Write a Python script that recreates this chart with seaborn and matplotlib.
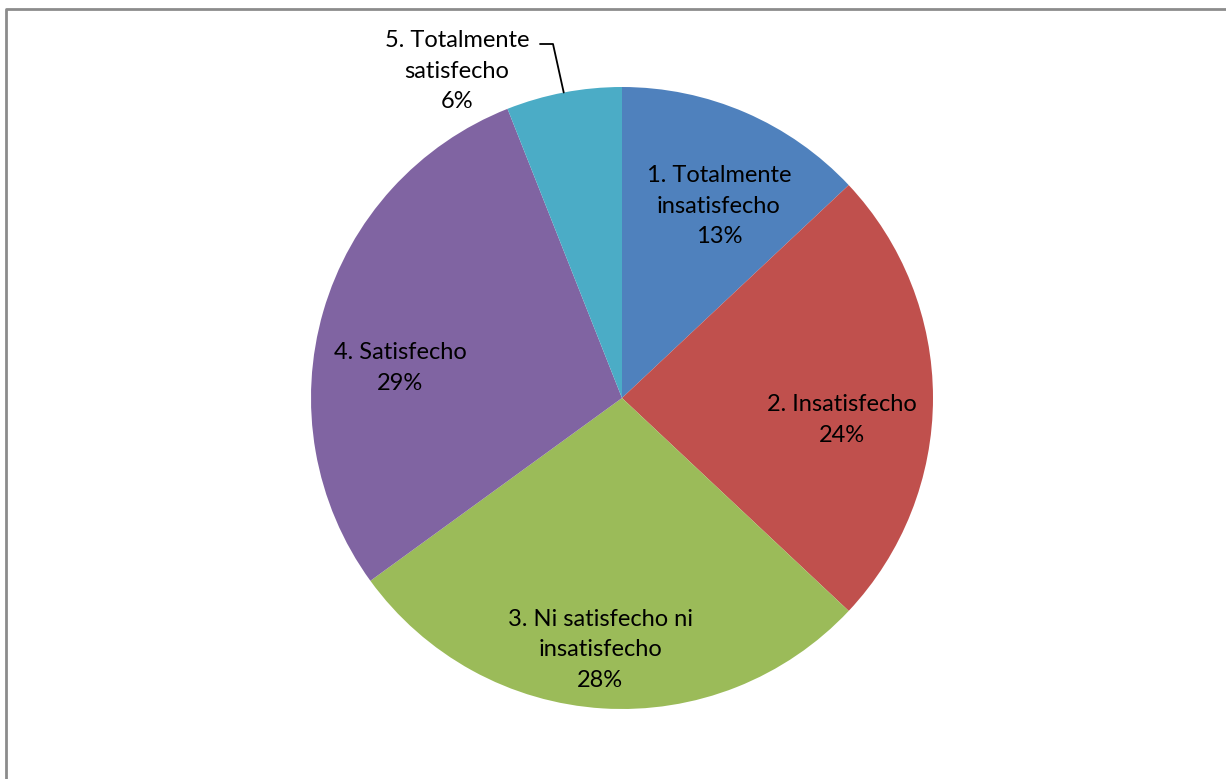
import numpy as np
import matplotlib
matplotlib.use("Agg")
import matplotlib.pyplot as plt
import seaborn as sns

# ## data
categories = ["1. Totalmente\ninsatisfecho", "2. Insatisfecho",
              "3. Ni satisfecho ni\ninsatisfecho", "4. Satisfecho",
              "5. Totalmente\nsatisfecho"]
values = [13, 24, 28, 29, 6]
colors = ["#4F81BD", "#C0504D", "#9BBB59", "#8064A2", "#4BACC6"]

sns.set_theme(style="white")
plt.rcParams['font.family'] = ['Lato', 'DejaVu Sans']

W, H = 1226, 779
fig = plt.figure(figsize=(W / 100, H / 100), dpi=100)
ax = fig.add_axes([0, 0, 1, 1])

cx, cy, r = 622, H - 398, 311
wedges, _ = ax.pie(values, colors=sns.color_palette(colors), startangle=90,
                   counterclock=False, center=(cx, cy), radius=r,
                   wedgeprops=dict(linewidth=0), frame=True)
ax.set_xlim(0, W)
ax.set_ylim(0, H)
ax.axis('off')

# label anchor positions (pixels from top-left), like Excel's best fit
label_pos = [(719, 206), (842, 420), (600, 650), (400, 368), (457, 71)]
fs = 17
total = sum(values)
cum = 0
for i, (lab, v) in enumerate(zip(categories, values)):
    mid = 90 - 360 * (cum + v / 2) / total
    cum += v
    x, y = label_pos[i]
    ax.text(x, H - y, f"{lab}\n{v}%", ha='center', va='center', fontsize=fs,
            linespacing=1.58, color='black')
    if i == 4:
        # leader line to the outside label
        th = np.deg2rad(mid)
        ex = cx + r * np.cos(th)
        ey = cy + r * np.sin(th)
        ax.plot([540, 553, ex], [H - 44, H - 44, ey], color='black', lw=1.3)

# chart area border
ax.plot([6, 6, W + 5], [-5, H - 9, H - 9], color='#8c8c8c', lw=2.0,
        clip_on=False)

fig.savefig("out.png", dpi=100)
